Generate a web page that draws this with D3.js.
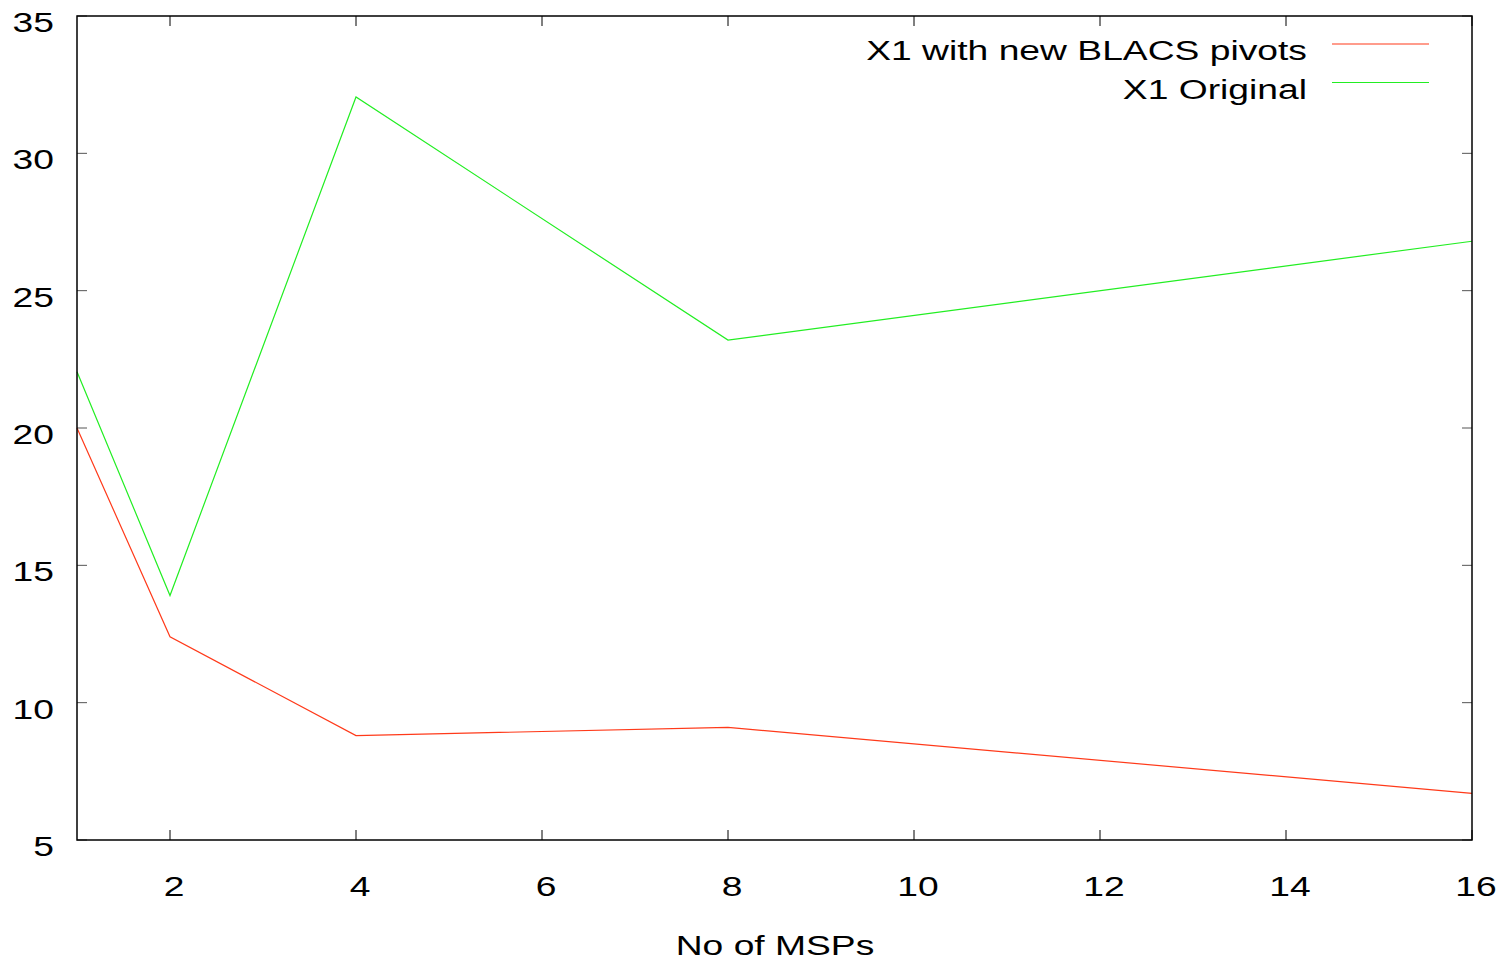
<!DOCTYPE html>
<html>
<head>
<meta charset="utf-8">
<script src="https://cdn.jsdelivr.net/npm/d3@7"></script>
<style>
  body { margin: 0; background: #fff; }
  text { font-family: "Liberation Sans", Arial, sans-serif; fill: #000; }
</style>
</head>
<body>
<script>
// values
const msps = [1, 2, 4, 8, 16];
const newPivots = [20.0, 12.4, 8.8, 9.1, 6.7];
const original = [22.05, 13.9, 32.05, 23.2, 26.8];
const xTicks = [2, 4, 6, 8, 10, 12, 14, 16];
const yTicks = [5, 10, 15, 20, 25, 30, 35];
const seriesNames = ['X1 with new BLACS pivots', 'X1 Original'];
const seriesColors = ['#ff3a1a', '#22ee22'];

const width = 1507, height = 963;
const margin = {top: 16, right: 35, bottom: 123, left: 77};

const svg = d3.select('body').append('svg')
    .attr('width', width)
    .attr('height', height);

const x = d3.scaleLinear().domain([1, 16]).range([margin.left, width - margin.right]);
const y = d3.scaleLinear().domain([5, 35]).range([height - margin.bottom, margin.top]);

const tickLen = 10;
const fontSize = 28;
const stretch = 1.33; // the original font is wider than Liberation Sans

// text widened horizontally around its anchor point
function wideText(sel, tx, ty, anchor, str) {
    return sel.append('text')
        .attr('transform', 'translate(' + tx + ',' + ty + ') scale(' + stretch + ',1)')
        .attr('text-anchor', anchor)
        .style('font-size', fontSize + 'px')
        .text(str);
}

// ticks on all four sides, pointing inward
svg.append('g').selectAll('line').data(xTicks).enter().append('line')
    .attr('x1', d => x(d)).attr('x2', d => x(d))
    .attr('y1', y(5)).attr('y2', y(5) - tickLen)
    .style('stroke', '#000').style('stroke-width', 1);
svg.append('g').selectAll('line').data(xTicks).enter().append('line')
    .attr('x1', d => x(d)).attr('x2', d => x(d))
    .attr('y1', y(35)).attr('y2', y(35) + tickLen)
    .style('stroke', '#000').style('stroke-width', 1);
svg.append('g').selectAll('line').data(yTicks).enter().append('line')
    .attr('x1', x(1)).attr('x2', x(1) + tickLen)
    .attr('y1', d => y(d)).attr('y2', d => y(d))
    .style('stroke', '#555').style('stroke-width', 1);
svg.append('g').selectAll('line').data(yTicks).enter().append('line')
    .attr('x1', x(16)).attr('x2', x(16) - tickLen)
    .attr('y1', d => y(d)).attr('y2', d => y(d))
    .style('stroke', '#555').style('stroke-width', 1);

// tick labels
const xLab = svg.append('g');
xTicks.forEach(d => wideText(xLab, x(d) + 4, y(5) + 56, 'middle', d));
const yLab = svg.append('g');
yTicks.forEach(d => wideText(yLab, 54, y(d) + 16, 'end', d));

// axis title
wideText(svg, 775, 955, 'middle', 'No of MSPs');

// series lines
const line = d3.line()
    .x((d, i) => x(msps[i]))
    .y(d => y(d));

[newPivots, original].forEach((vals, i) => {
    svg.append('path')
        .datum(vals)
        .attr('d', line)
        .style('fill', 'none')
        .style('stroke', seriesColors[i])
        .style('stroke-width', 1.2);
});

// legend
const legend = svg.append('g');
seriesNames.forEach((name, i) => {
    const ly = 44 + i * 38.5;
    wideText(legend, 1307, ly + 16, 'end', name);
    legend.append('line')
        .attr('x1', 1332).attr('x2', 1429)
        .attr('y1', ly).attr('y2', ly)
        .style('stroke', seriesColors[i])
        .style('stroke-width', 1.2);
});

// frame
svg.append('rect')
    .attr('x', x(1)).attr('y', y(35))
    .attr('width', x(16) - x(1))
    .attr('height', y(5) - y(35))
    .style('fill', 'none')
    .style('stroke', '#000')
    .style('stroke-width', 1.5);
</script>
</body>
</html>
